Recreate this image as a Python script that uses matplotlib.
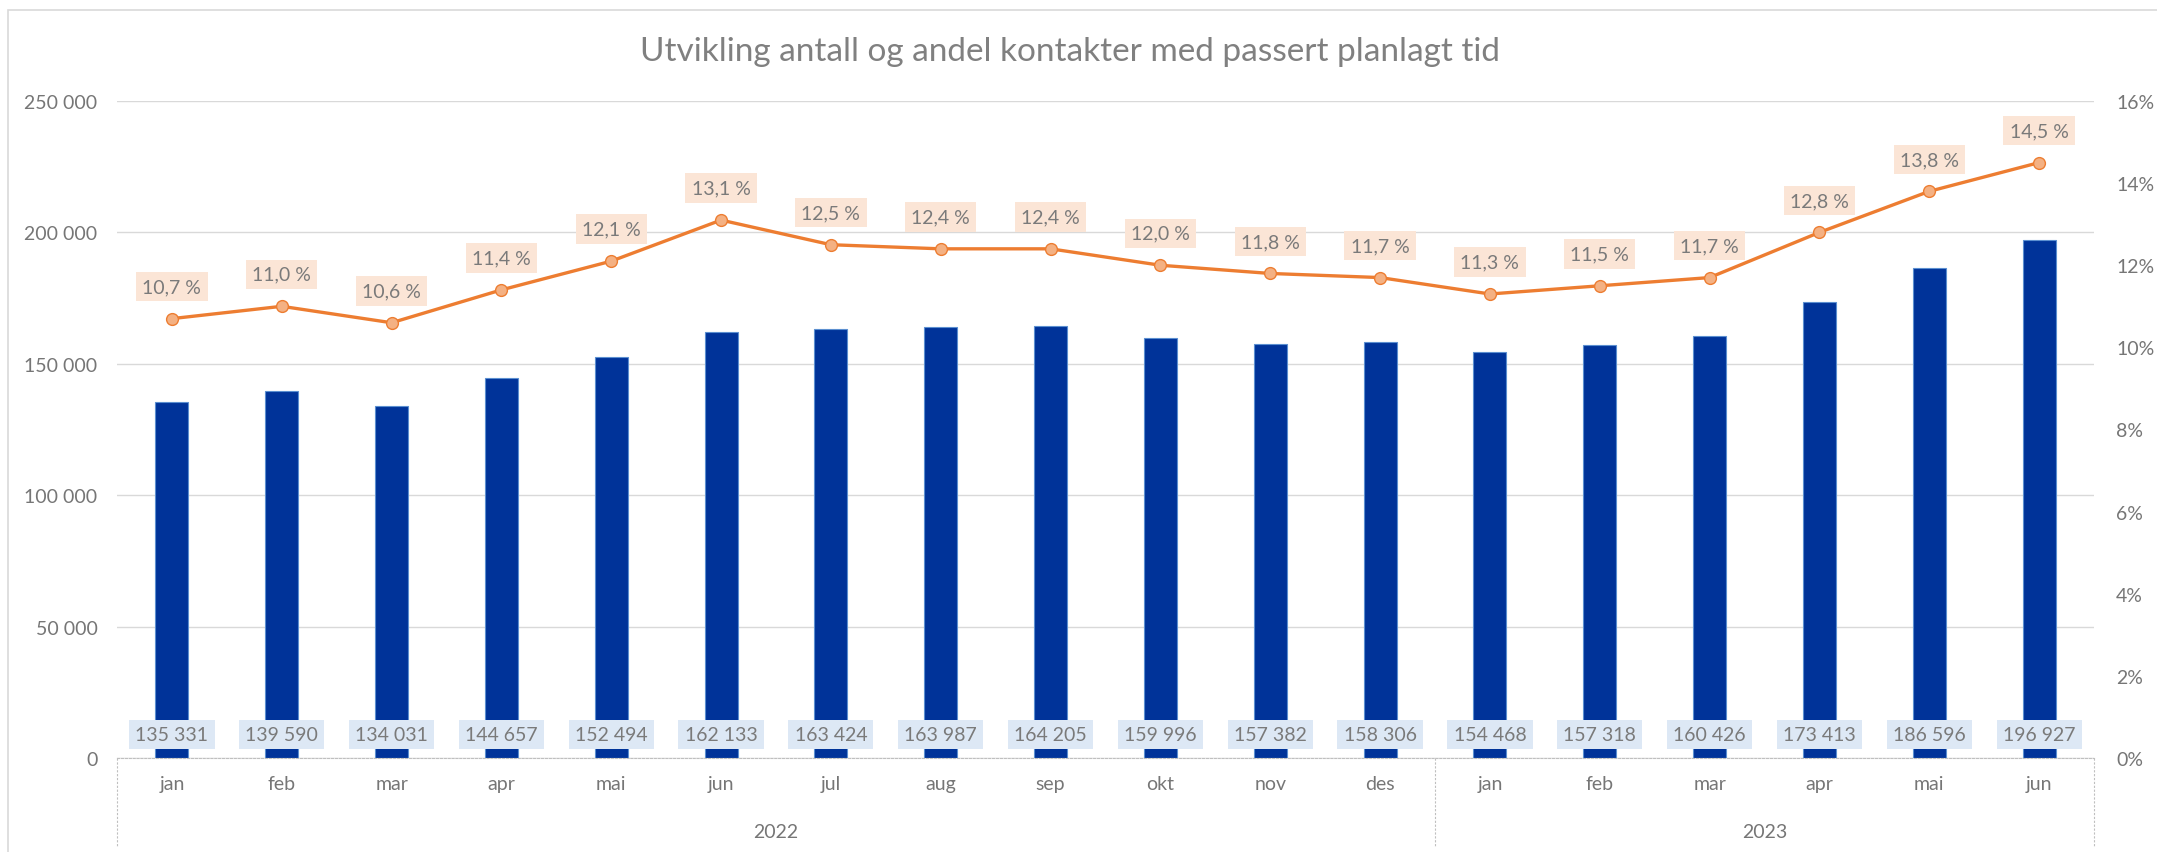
import numpy as np
import matplotlib
matplotlib.use("Agg")
import matplotlib.pyplot as plt
import matplotlib.transforms as mtransforms
from matplotlib.patches import Rectangle
from matplotlib.ticker import FuncFormatter, MultipleLocator

# data
months = ["jan", "feb", "mar", "apr", "mai", "jun", "jul", "aug", "sep", "okt", "nov", "des",
          "jan", "feb", "mar", "apr", "mai", "jun"]
years = ["2022", "2023"]
year_sizes = [12, 6]
antall = [135331, 139590, 134031, 144657, 152494, 162133, 163424, 163987, 164205, 159996,
          157382, 158306, 154468, 157318, 160426, 173413, 186596, 196927]
andel = [10.7, 11.0, 10.6, 11.4, 12.1, 13.1, 12.5, 12.4, 12.4, 12.0, 11.8, 11.7,
         11.3, 11.5, 11.7, 12.8, 13.8, 14.5]
title = "Utvikling antall og andel kontakter med passert planlagt tid"

plt.rcParams['font.family'] = ['Lato', 'DejaVu Sans']

W, H = 2157, 853
fig = plt.figure(figsize=(W / 100, H / 100), dpi=100)
fig.patch.set_facecolor("white")

# plot area in pixels: left 117, right 2094, top 102, bottom 759
ax = fig.add_axes([117 / W, 1 - 759 / H, (2094 - 117) / W, (759 - 102) / H])
ax2 = ax.twinx()

txt = "#767676"
lbl = "#7a7a7a"
x = np.arange(len(months))

ax.bar(x, antall, width=0.30, color="#003399", edgecolor="#5b8fd0", linewidth=0.8, zorder=2)
ax.set_xlim(-0.5, len(months) - 0.5)
ax.set_ylim(0, 250000)
ax.yaxis.set_major_locator(MultipleLocator(50000))
ax.yaxis.set_major_formatter(FuncFormatter(lambda v, p: f"{int(v):,}".replace(",", " ")))
ax.grid(axis="y", color="#d9d9d9", linewidth=1.0)
ax.set_axisbelow(True)
for s in ("top", "right", "left"):
    ax.spines[s].set_visible(False)
ax.spines["bottom"].set_color("#bfbfbf")
ax.spines["bottom"].set_linestyle((0, (2, 1.5)))
ax.spines["bottom"].set_linewidth(0.8)
ax.set_xticks(x)
ax.set_xticklabels(months)
ax.tick_params(axis="x", length=0, pad=12, labelsize=14, labelcolor=txt)
ax.tick_params(axis="y", length=0, pad=14, labelsize=14, labelcolor=txt)

for xi, v in zip(x, antall):
    ax.annotate(f"{v:,}".replace(",", " "), (xi, 0), xytext=(0, 17), textcoords="offset points",
                ha="center", va="center", fontsize=14, color=lbl, zorder=5,
                bbox=dict(boxstyle="square,pad=0.32", fc="#dde8f5", ec="none"))

# multi-level category axis
trans = mtransforms.blended_transform_factory(ax.transData, ax.transAxes)
depth = (847 - 759) / (759 - 102)
edges = np.concatenate([[0], np.cumsum(year_sizes)]) - 0.5
for e in edges:
    ax.plot([e, e], [0, -depth], transform=trans, color="#bfbfbf", lw=0.8,
            ls=(0, (2, 1.5)), clip_on=False)
for i, yr in enumerate(years):
    ax.text((edges[i] + edges[i + 1]) / 2, -(832 - 759) / (759 - 102), yr, transform=trans,
            ha="center", va="center", fontsize=14, color=txt)

ax2.plot(x, andel, color="#ed7d31", lw=2.4, marker="o", markersize=8.5,
         markerfacecolor="#f4b183", markeredgecolor="#ed7d31", markeredgewidth=1.0, zorder=3)
ax2.set_ylim(0, 16)
ax2.yaxis.set_major_locator(MultipleLocator(2))
ax2.yaxis.set_major_formatter(FuncFormatter(lambda v, p: f"{int(round(v))}%"))
ax2.tick_params(axis="y", length=0, pad=16, labelsize=14, labelcolor=txt)
for s in ax2.spines.values():
    s.set_visible(False)

for xi, v in zip(x, andel):
    ax2.annotate(f"{v:.1f} %".replace(".", ","), (xi, v), xytext=(0, 23), textcoords="offset points",
                 ha="center", va="center", fontsize=14, color=lbl, zorder=5,
                 bbox=dict(boxstyle="square,pad=0.32", fc="#fbe5d6", ec="none"))

fig.text(1070 / W, 1 - 52 / H, title, ha="center", va="center", fontsize=24, color="#808080")

# chart border
fig.patches.append(Rectangle((8 / W, -0.02), 1.0, 1 - 11 / H + 0.02, transform=fig.transFigure,
                             fill=False, ec="#d9d9d9", lw=1.2))

fig.savefig("out.png", dpi=100)
